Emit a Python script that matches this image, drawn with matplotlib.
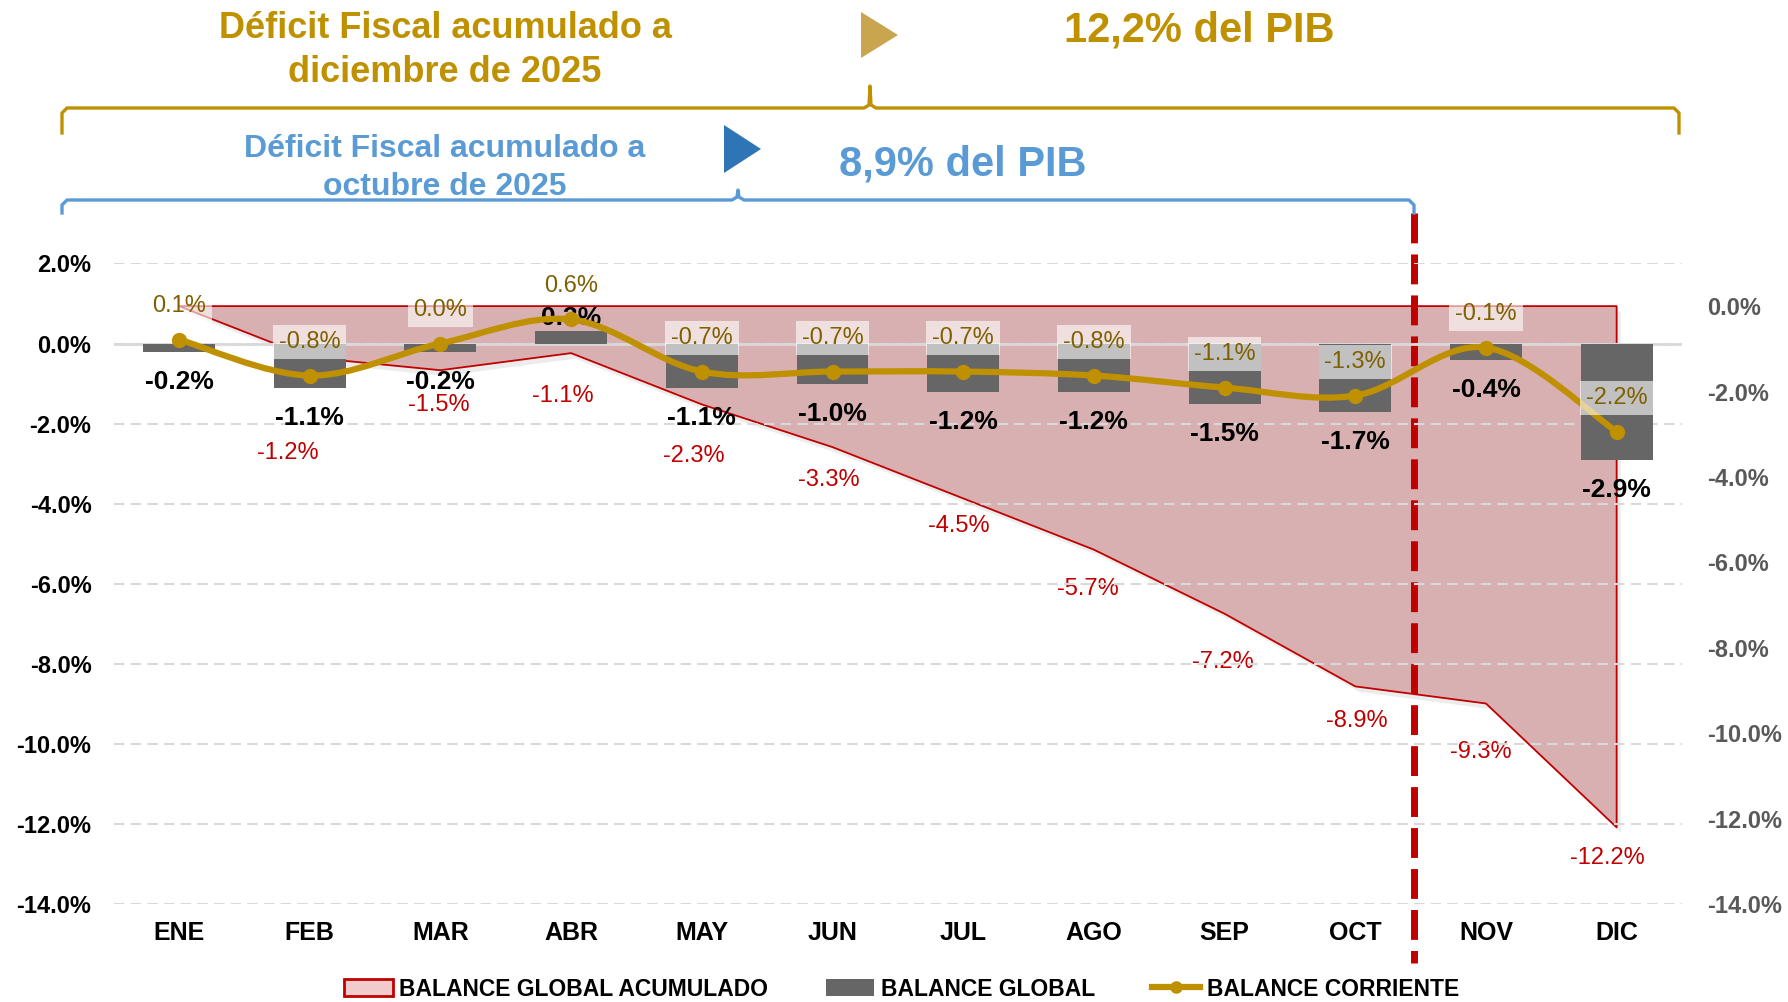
import numpy as np
import matplotlib
matplotlib.use("Agg")
import matplotlib.pyplot as plt
from matplotlib import font_manager, patheffects
from matplotlib.lines import Line2D
from matplotlib.patches import Patch, PathPatch, Polygon
from matplotlib.path import Path
from matplotlib.ticker import FuncFormatter

# ---- data (% del PIB) ----
meses = ["ENE", "FEB", "MAR", "ABR", "MAY", "JUN", "JUL", "AGO", "SEP", "OCT", "NOV", "DIC"]
balance_global = [-0.2, -1.1, -0.2, 0.3, -1.1, -1.0, -1.2, -1.2, -1.5, -1.7, -0.4, -2.9]
balance_corriente = [0.1, -0.8, 0.0, 0.6, -0.7, -0.7, -0.7, -0.8, -1.1, -1.3, -0.1, -2.2]
balance_acumulado = [0.0, -1.2, -1.5, -1.1, -2.3, -3.3, -4.5, -5.7, -7.2, -8.9, -9.3, -12.2]

# manual label nudges for the accumulated series (points), ENE label not shown
red_dx = [0, -16, -1, -6, -6, -3, -3, -4, -1, 1, -4, -7]
red_dy = [0, 69, 25, 31, 37, 24, 20, 28, 35, 25, 35, 22]

W, H = 1788, 1002
GOLD = "#BF9000"
GOLD_TXT = "#7F6000"
RED = "#C00000"
BLUE = "#5B9BD5"

names = {f.name for f in font_manager.fontManager.ttflist}
CAP_FONT = "Liberation Sans Narrow" if "Liberation Sans Narrow" in names else "Liberation Sans"
plt.rcParams["font.family"] = ["Liberation Sans", "DejaVu Sans"]
plt.rcParams["axes.unicode_minus"] = False


def fx(x):
    return x / W


def fy(y):
    return 1 - y / H


def smooth_path(xs, ys):
    # Bezier path through the points (Excel-like smoothed line)
    pts = np.column_stack([xs, ys]).astype(float)
    n = len(pts)
    verts = [pts[0]]
    codes = [Path.MOVETO]
    for i in range(n - 1):
        p0 = pts[max(i - 1, 0)]
        p1 = pts[i]
        p2 = pts[i + 1]
        p3 = pts[min(i + 2, n - 1)]
        verts += [p1 + (p2 - p0) / 6, p2 - (p3 - p1) / 6, p2]
        codes += [Path.CURVE4] * 3
    return Path(verts, codes)


fig = plt.figure(figsize=(W / 100, H / 100), dpi=100)
ax = fig.add_axes([fx(113.7), fy(904.3), fx(1682) - fx(113.7), fy(263.4) - fy(904.3)])
ax2 = ax.twinx()
ax.set_zorder(2)
ax2.set_zorder(1)
ax.patch.set_visible(False)

x = np.arange(len(meses))

# accumulated balance (right axis)
area = ax2.fill_between(x, 0, balance_acumulado, facecolor="#D8B0B1", edgecolor=RED, linewidth=1.3)
area.set_path_effects([patheffects.SimplePatchShadow(offset=(3, -4), shadow_rgbFace="#808080", alpha=0.15),
                       patheffects.Normal()])
for i in range(1, len(x)):
    ax2.annotate(f"{balance_acumulado[i]:.1f}%", (x[i], balance_acumulado[i]),
                 xytext=(red_dx[i], -red_dy[i]), textcoords="offset points",
                 ha="center", va="center", color=RED, fontsize=17)

# monthly global balance (left axis)
ax.bar(x, balance_global, width=0.55, color="#666666", zorder=2)
for i, v in enumerate(balance_global):
    off = 9.5 if v >= 0 else -22
    ax.annotate(f"{v:.1f}%", (x[i], v), xytext=(0, off), textcoords="offset points",
                ha="center", va="center", color="black", fontsize=19, fontweight="bold", zorder=3)

# current balance (left axis), smoothed
ax.add_patch(PathPatch(smooth_path(x, balance_corriente), facecolor="none", edgecolor=GOLD,
                       linewidth=4.5, capstyle="round", zorder=4))
ax.plot(x, balance_corriente, "o", color=GOLD, markersize=10, zorder=5)
for i, v in enumerate(balance_corriente):
    ax.annotate(f"{v:.1f}%", (x[i], v), xytext=(0, 24), textcoords="offset points",
                ha="center", va="center", color=GOLD_TXT, fontsize=17, zorder=6,
                bbox=dict(boxstyle="square,pad=0.25", fc="white", ec="none", alpha=0.6))

# axes styling
ax.set_xlim(-0.5, len(x) - 0.5)
ax.set_ylim(-14, 2)
ax2.set_ylim(-14, 1)
ax.set_yticks(np.arange(-14, 2.1, 2))
ax2.set_yticks(np.arange(-14, 0.1, 2))
pct = FuncFormatter(lambda v, _: f"{v:.1f}%")
ax.yaxis.set_major_formatter(pct)
ax2.yaxis.set_major_formatter(pct)
ax.set_xticks(x)
ax.set_xticklabels(meses, fontfamily=CAP_FONT, fontweight="bold", fontsize=18)
ax.tick_params(axis="x", length=0, pad=12)
ax.tick_params(axis="y", length=0, pad=16, labelsize=17)
ax2.tick_params(axis="y", length=0, pad=18, labelsize=17, labelcolor="#595959")
for t in ax.get_yticklabels() + ax2.get_yticklabels():
    t.set_fontweight("bold")
ax.grid(axis="y", color="#D9D9D9", linewidth=1.5, dashes=(5, 3))
ax.set_axisbelow(True)
ax.axhline(0, color="#D9D9D9", linewidth=2, zorder=1)
for a in (ax, ax2):
    for s in a.spines.values():
        s.set_visible(False)

# separator between October and November
fig.add_artist(Line2D([fx(1414), fx(1414)], [fy(213), fy(963)], color=RED, linewidth=5,
                      dashes=(4.3, 1.6), transform=fig.transFigure))


# header brackets and texts
def bracket(x0, x1, xt, y, yend, ytip, color):
    xs = [x0, x0, x0 + 5, xt - 6, xt - 1, xt, xt + 1, xt + 6, x1 - 5, x1, x1]
    ys = [yend, y + 5, y, y, y - 3, ytip, y - 3, y, y, y + 5, yend]
    fig.add_artist(Line2D([fx(v) for v in xs], [fy(v) for v in ys], color=color, linewidth=2.4,
                          solid_joinstyle="round", transform=fig.transFigure))


def triangle(xl, xr, yt, yb, color):
    pts = [(fx(xl), fy(yt)), (fx(xr), fy((yt + yb) / 2)), (fx(xl), fy(yb))]
    fig.add_artist(Polygon(pts, closed=True, facecolor=color, edgecolor="none",
                           transform=fig.transFigure))


bracket(62, 1679, 870, 108, 133, 86, GOLD)
bracket(62, 1414, 738, 200, 213, 190, BLUE)
triangle(861, 898, 12, 58, "#C9A54F")
triangle(724, 761, 125, 173, "#2E75B6")

fig.text(fx(445), fy(38), "Déficit Fiscal acumulado a", ha="center", va="baseline",
         color=GOLD, fontsize=26, fontweight="bold")
fig.text(fx(445), fy(82), "diciembre de 2025", ha="center", va="baseline",
         color=GOLD, fontsize=26, fontweight="bold")
fig.text(fx(1199), fy(42), "12,2% del PIB", ha="center", va="baseline",
         color=GOLD, fontsize=30, fontweight="bold")
fig.text(fx(445), fy(157), "Déficit Fiscal acumulado a", ha="center", va="baseline",
         color=BLUE, fontsize=23, fontweight="bold")
fig.text(fx(445), fy(195), "octubre de 2025", ha="center", va="baseline",
         color=BLUE, fontsize=23, fontweight="bold")
fig.text(fx(963), fy(175), "8,9% del PIB", ha="center", va="baseline",
         color=BLUE, fontsize=30, fontweight="bold")

# legend
handles = [
    Patch(facecolor="#F2CCCC", edgecolor=RED, linewidth=2, label="BALANCE GLOBAL ACUMULADO"),
    Patch(facecolor="#666666", edgecolor="none", label="BALANCE GLOBAL"),
    Line2D([0], [0], color=GOLD, linewidth=4.5, marker="o", markersize=8, label="BALANCE CORRIENTE"),
]
fig.legend(handles=handles, ncol=3, loc="center", bbox_to_anchor=(fx(902), fy(989)),
           frameon=False, handlelength=2.1, handleheight=0.7, handletextpad=0.3,
           columnspacing=2.5, borderaxespad=0,
           prop=dict(family=CAP_FONT, weight="bold", size=16.5))

fig.savefig("out.png", dpi=100)
